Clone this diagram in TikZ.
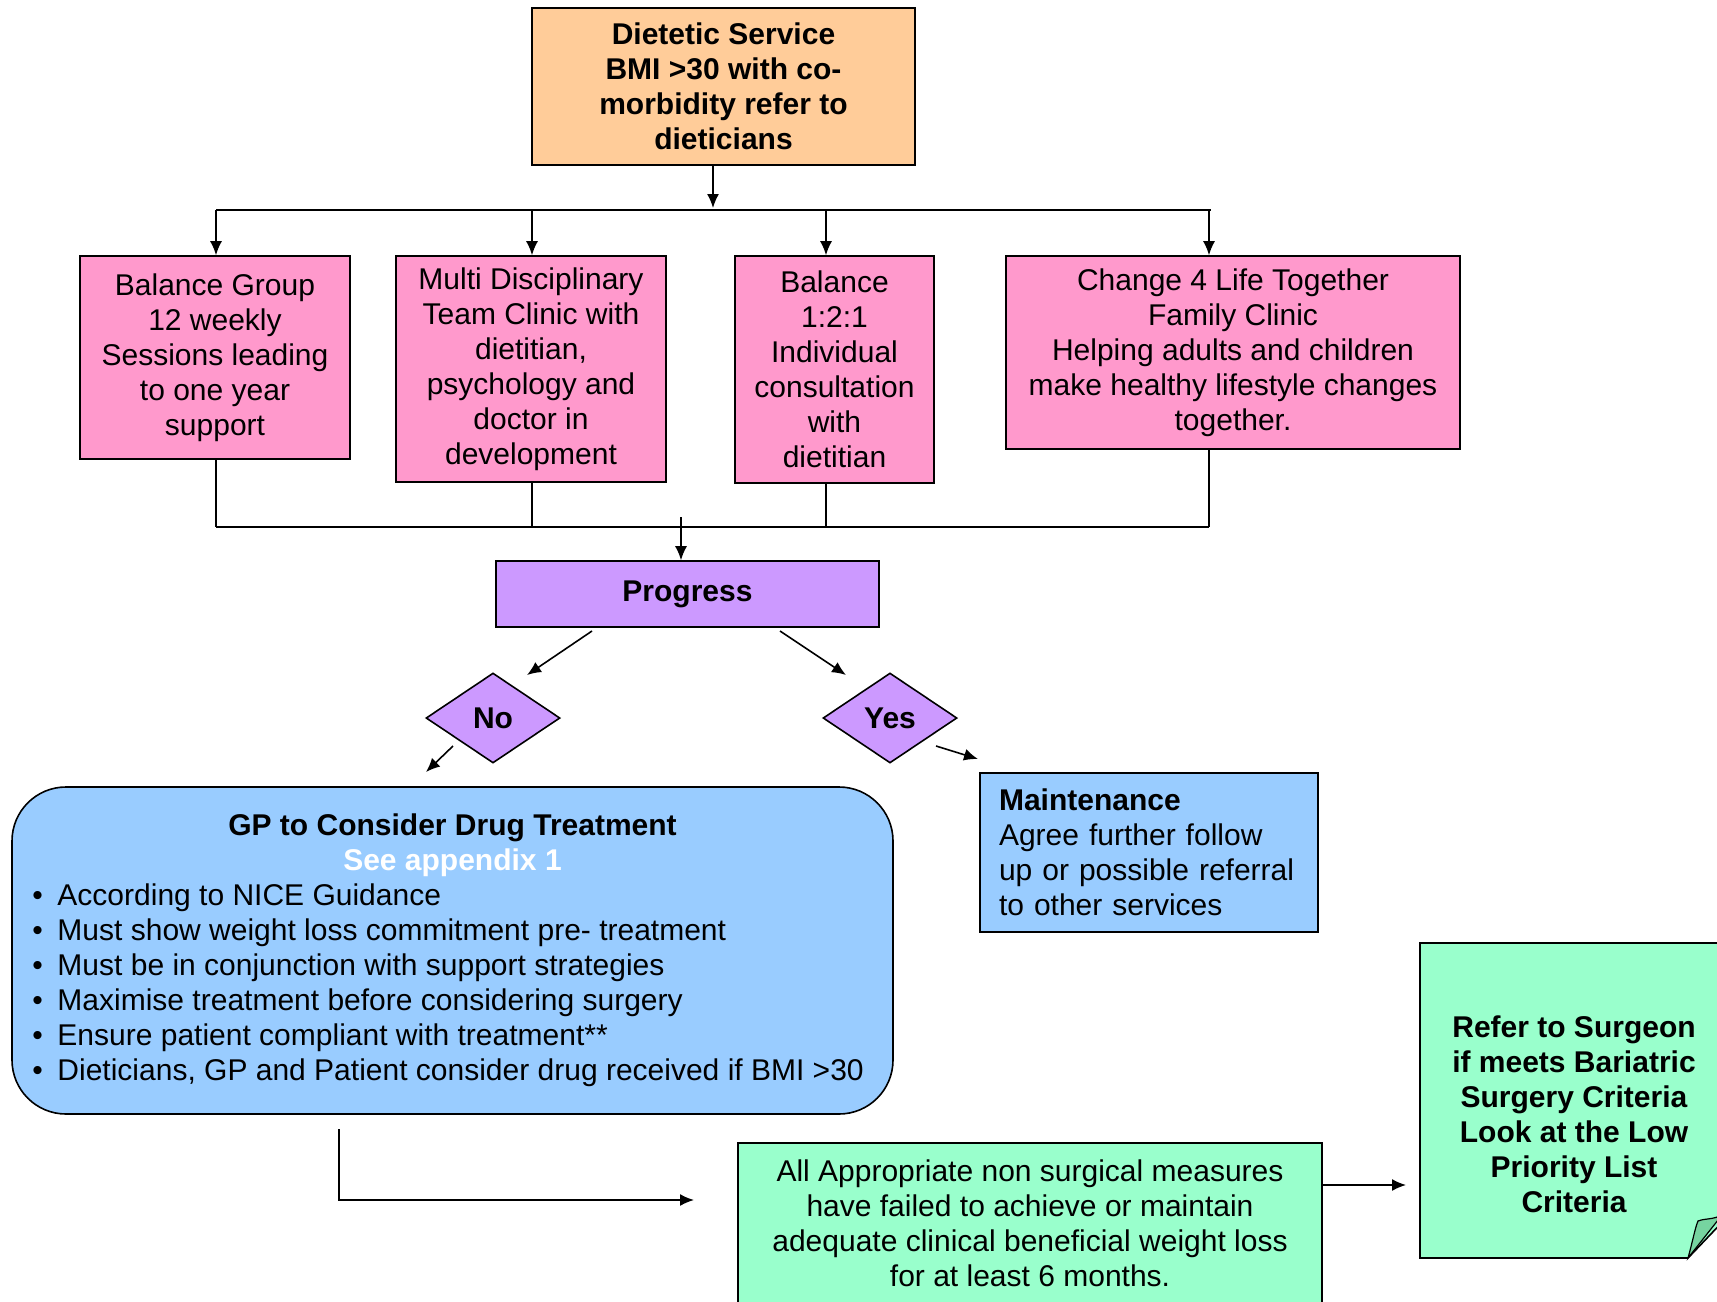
\documentclass[tikz,border=0pt]{standalone}
\usepackage{fontspec}
\setmainfont{Liberation Sans}
\usetikzlibrary{arrows.meta,shapes.geometric}

\begin{document}
\begin{tikzpicture}[x=0.5pt,y=-0.5pt,font=\fontsize{15}{17.5}\selectfont,
  box/.style={draw=black, line width=0.8pt, align=center, inner sep=0pt},
  arr/.style={-{Latex[length=7pt,width=6pt]}, line width=0.8pt},
  ln/.style={line width=0.8pt},
  dec/.style={box, diamond, aspect=1.5, minimum width=67pt, minimum height=45pt, fill=progress, font=\fontsize{15}{17.5}\selectfont\bfseries}]
% Colors
\definecolor{dietetic}{RGB}{255,204,153}
\definecolor{service}{RGB}{255,153,204}
\definecolor{progress}{RGB}{204,153,255}
\definecolor{drug}{RGB}{153,204,255}
\definecolor{surgery}{RGB}{153,255,204}
\definecolor{fold}{RGB}{118,212,160}

% Page
\path[use as bounding box, fill=white] (0,0) rectangle (1717,1301);

% Referral
\node[box, fill=dietetic, minimum width=191.5pt, minimum height=78.5pt, font=\fontsize{15}{17.5}\selectfont\bfseries] (top) at (723.5,86.5)
  {Dietetic Service\\BMI >30 with co-\\morbidity refer to\\dieticians};

% Services
\node[box, fill=service, minimum width=135pt, minimum height=101.5pt] (b1) at (215,357.5)
  {Balance Group\\12 weekly\\Sessions leading\\to one year\\support};
\node[box, fill=service, minimum width=135pt, minimum height=113pt] (b2) at (531,369)
  {Multi Disciplinary\\Team Clinic with\\dietitian,\\psychology and\\doctor in\\development};
\node[box, fill=service, minimum width=99.5pt, minimum height=113.5pt] (b3) at (834.5,369.5)
  {Balance\\1:2:1\\Individual\\consultation\\with\\dietitian};
\node[box, fill=service, minimum width=227pt, minimum height=96.5pt] (b4) at (1233,352.5)
  {Change 4 Life Together\\Family Clinic\\Helping adults and children\\make healthy lifestyle changes\\together.};

% Split to the services
\coordinate (tin) at (713,208);
\coordinate (t1) at (216,210);
\coordinate (t2) at (532,210);
\coordinate (t3) at (826,210);
\coordinate (t4) at (1209,210);
\draw[arr] (tin |- top.south) -- (tin);
\draw[ln] (t1) -- (1211,210);
\foreach \t/\b in {t1/b1,t2/b2,t3/b3,t4/b4}{
  \draw[arr] (\t) -- (\t |- \b.north);
}

% Progress and decision
\node[box, fill=progress, minimum width=191.5pt, minimum height=33pt, font=\fontsize{15}{17.5}\selectfont\bfseries] (prog) at (687.5,594) {Progress};
\node[dec] (no) at (493,718) {No};
\node[dec] (yes) at (890,718) {Yes};

% Join back to progress
\coordinate (u1) at (216,527);
\coordinate (u2) at (532,527);
\coordinate (u3) at (826,527);
\coordinate (u4) at (1209,527);
\coordinate (pin) at (681,517);
\foreach \u/\b in {u1/b1,u2/b2,u3/b3,u4/b4}{
  \draw[ln] (\u |- \b.south) -- (\u);
}
\draw[ln] (u1) -- (u4);
\draw[arr] (pin) -- (pin |- prog.north);

% Outcomes
\node[box, fill=drug, rounded corners=27pt, minimum width=440.5pt, minimum height=163.5pt, text width=420pt, align=none] (gp) at (452.5,950.5)
  {\centering\bfseries GP to Consider Drug Treatment\par
   \textcolor{white}{See appendix 1}\par
   \raggedright\mdseries
   \makebox[12.5pt][l]{\textbullet}According to NICE Guidance\par
   \makebox[12.5pt][l]{\textbullet}Must show weight loss commitment pre- treatment\par
   \makebox[12.5pt][l]{\textbullet}Must be in conjunction with support strategies\par
   \makebox[12.5pt][l]{\textbullet}Maximise treatment before considering surgery\par
   \makebox[12.5pt][l]{\textbullet}Ensure patient compliant with treatment**\par
   \makebox[12.5pt][l]{\textbullet}Dieticians, GP and Patient consider drug received if BMI >30\par};
\node[box, fill=drug, minimum width=169pt, minimum height=79.5pt, text width=150pt, align=left] (maint) at (1149,852.5)
  {\textbf{Maintenance}\\Agree further follow\\up or possible referral\\to other services};

\coordinate (pno1) at (592,631);
\coordinate (pno2) at (527,675);
\coordinate (pyes1) at (780,631);
\coordinate (pyes2) at (846,675);
\coordinate (ngp1) at (453,746);
\coordinate (ngp2) at (426,772);
\coordinate (ym1) at (936,746);
\coordinate (ym2) at (978,759);
\draw[arr] (pno1) -- (pno2);
\draw[arr] (pyes1) -- (pyes2);
\draw[arr] (ngp1) -- (ngp2);
\draw[arr] (ym1) -- (ym2);

% Non surgical measures
\node[box, fill=surgery, minimum width=292pt, minimum height=80pt] (fail) at (1030,1223)
  {All Appropriate non surgical measures\\have failed to achieve or maintain\\adequate clinical beneficial weight loss\\for at least 6 months.};
\coordinate (gout) at (339,1129);
\coordinate (fin) at (694,1200);
\draw[arr] (gout) |- (fin);

% Surgeon note with curled corner
\draw[ln, fill=surgery] (1420,943) -- (1730,943) -- (1730,1214) -- (1688,1258) -- (1420,1258) -- cycle;
\draw[line width=0.6pt, fill=fold] (1688,1258) .. controls (1693,1240) and (1695,1228) .. (1698,1221)
  .. controls (1706,1218) and (1712,1220) .. (1722,1215) -- cycle;
\node[align=center, font=\fontsize{15}{17.5}\selectfont\bfseries] (surg) at (1574,1114)
  {Refer to Surgeon\\if meets Bariatric\\Surgery Criteria\\Look at the Low\\Priority List\\Criteria};
\coordinate (sin) at (1406,1185);
\draw[arr] (sin -| fail.east) -- (sin);
\end{tikzpicture}
\end{document}
